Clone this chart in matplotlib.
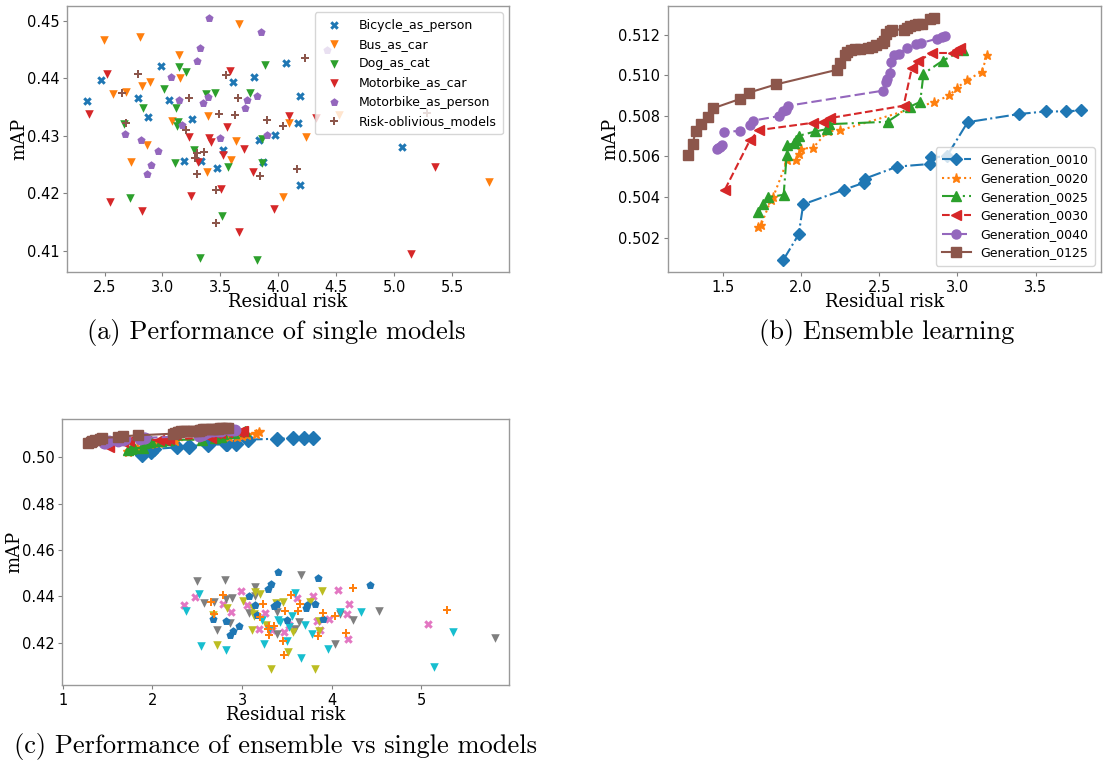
import matplotlib
matplotlib.use("Agg")
import matplotlib.pyplot as plt
from matplotlib.ticker import FixedLocator, ScalarFormatter

# ---------------- single models: (residual risk, mAP) ----------------
bicycle_as_person_risk = [2.349, 2.472, 2.984, 2.787, 2.878, 3.057, 3.257, 3.185, 3.333, 3.524, 3.467,
                          3.609, 3.794, 3.837, 3.871, 3.973, 4.070, 4.189, 4.169, 4.184, 5.071]
bicycle_as_person_map = [0.4361, 0.4397, 0.4421, 0.4366, 0.4333, 0.4362, 0.4329, 0.4257, 0.4256, 0.4276, 0.4244,
                         0.4393, 0.4402, 0.4293, 0.4255, 0.4301, 0.4427, 0.4369, 0.4322, 0.4215, 0.4280]

bus_as_car_risk = [2.494, 2.807, 3.660, 3.146, 3.148, 2.821, 2.890, 2.577, 2.685, 3.083, 3.393,
                   2.870, 2.725, 3.632, 3.589, 3.385, 4.096, 4.243, 4.039, 4.528, 5.819]
bus_as_car_map = [0.4466, 0.4472, 0.4494, 0.4441, 0.4401, 0.4387, 0.4394, 0.4373, 0.4376, 0.4326, 0.4334,
                  0.4284, 0.4255, 0.4291, 0.4258, 0.4237, 0.4323, 0.4298, 0.4193, 0.4337, 0.4219]

dog_as_cat_risk = [2.671, 2.719, 2.830, 3.015, 3.140, 3.205, 3.120, 3.131, 3.129, 3.106, 3.268,
                   3.376, 3.456, 3.328, 3.510, 3.567, 3.757, 3.888, 3.857, 3.857, 3.814]
dog_as_cat_map = [0.4320, 0.4191, 0.4349, 0.4382, 0.4420, 0.4412, 0.4349, 0.4324, 0.4317, 0.4253, 0.4276,
                  0.4373, 0.4375, 0.4088, 0.4160, 0.4246, 0.4375, 0.4423, 0.4294, 0.4252, 0.4084]

motorbike_as_car_risk = [2.369, 2.520, 2.546, 2.821, 3.245, 3.225, 3.305, 3.399, 3.422, 3.524, 3.555,
                         3.586, 3.504, 3.660, 3.700, 3.783, 3.965, 4.093, 4.329, 5.142, 5.350]
motorbike_as_car_map = [0.4338, 0.4408, 0.4185, 0.4169, 0.4195, 0.4298, 0.4255, 0.4297, 0.4290, 0.4266, 0.4315,
                        0.4413, 0.4208, 0.4132, 0.4277, 0.4237, 0.4173, 0.4334, 0.4331, 0.4095, 0.4245]

motorbike_as_person_risk = [3.399, 3.848, 3.328, 3.294, 3.077, 3.140, 3.393, 3.353, 3.729, 3.814,
                            3.709, 3.171, 3.501, 3.905, 2.679, 2.816, 2.964, 2.901, 2.867, 4.425]
motorbike_as_person_map = [0.4505, 0.4481, 0.4453, 0.4431, 0.4403, 0.4363, 0.4367, 0.4357, 0.4362, 0.4369,
                           0.4349, 0.4319, 0.4297, 0.4302, 0.4303, 0.4293, 0.4274, 0.4249, 0.4233, 0.4449]

risk_oblivious_risk = [2.648, 2.688, 2.787, 3.231, 3.200, 3.484, 3.547, 3.652, 3.626, 3.905, 4.042,
                       4.235, 3.302, 3.359, 3.285, 3.296, 3.461, 3.464, 3.845, 4.164, 5.287]
risk_oblivious_map = [0.4374, 0.4322, 0.4407, 0.4366, 0.4310, 0.4338, 0.4406, 0.4366, 0.4336, 0.4328, 0.4317,
                      0.4435, 0.4270, 0.4272, 0.4261, 0.4233, 0.4206, 0.4148, 0.4230, 0.4242, 0.4340]

single_names = ["Bicycle_as_person", "Bus_as_car", "Dog_as_cat",
                "Motorbike_as_car", "Motorbike_as_person", "Risk-oblivious_models"]
single_risk = [bicycle_as_person_risk, bus_as_car_risk, dog_as_cat_risk,
               motorbike_as_car_risk, motorbike_as_person_risk, risk_oblivious_risk]
single_map = [bicycle_as_person_map, bus_as_car_map, dog_as_cat_map,
              motorbike_as_car_map, motorbike_as_person_map, risk_oblivious_map]
single_markers = ["X", "v", "v", "v", "p", "P"]

# ---------------- ensemble fronts per generation ----------------
gen0010_risk = [1.888, 1.986, 2.015, 2.278, 2.406, 2.410, 2.616, 2.826, 2.832, 2.932, 3.065, 3.392, 3.564, 3.693, 3.791]
gen0010_map = [0.5009, 0.50216, 0.50364, 0.50437, 0.50471, 0.50491, 0.5055, 0.50563, 0.50595, 0.50601,
               0.50769, 0.50809, 0.50822, 0.50822, 0.50827]

gen0020_risk = [1.729, 1.746, 1.808, 1.824, 1.914, 1.967, 1.988, 1.998, 2.077, 2.172, 2.249,
                2.853, 2.949, 2.995, 3.059, 3.154, 3.190]
gen0020_map = [0.50253, 0.50263, 0.50384, 0.50402, 0.50582, 0.50583, 0.50611, 0.50639, 0.50642, 0.50725,
               0.50728, 0.50868, 0.50901, 0.50937, 0.50975, 0.51017, 0.51098]

gen0025_risk = [1.729, 1.761, 1.791, 1.890, 1.909, 1.914, 1.956, 1.967, 1.988, 2.090, 2.168, 2.179,
                2.554, 2.698, 2.762, 2.783, 2.906, 3.038]
gen0025_map = [0.50325, 0.50366, 0.50399, 0.50411, 0.50606, 0.50656, 0.50665, 0.50680, 0.50702, 0.50723,
               0.50735, 0.50759, 0.50771, 0.50846, 0.50869, 0.51008, 0.51072, 0.51126]

gen0030_risk = [1.515, 1.674, 1.733, 2.077, 2.143, 2.185, 2.656, 2.709, 2.751, 2.836, 2.970, 2.999, 3.016]
gen0030_map = [0.50437, 0.50679, 0.50730, 0.50766, 0.50772, 0.50789, 0.50850, 0.51037, 0.51070, 0.51110,
               0.51110, 0.51123, 0.51134]

gen0040_risk = [1.462, 1.473, 1.485, 1.494, 1.511, 1.612, 1.676, 1.697, 1.861, 1.888, 1.903, 1.920,
                2.522, 2.546, 2.552, 2.571, 2.577, 2.592, 2.624, 2.677, 2.736, 2.766, 2.868, 2.900, 2.921]
gen0040_map = [0.50636, 0.50641, 0.50649, 0.50654, 0.50721, 0.50726, 0.50754, 0.50777, 0.50799, 0.50822,
               0.50828, 0.50850, 0.50924, 0.50966, 0.50983, 0.51011, 0.51067, 0.51100, 0.51106, 0.51134,
               0.51154, 0.51159, 0.51180, 0.51188, 0.51193]

gen0125_risk = [1.277, 1.309, 1.328, 1.362, 1.409, 1.438, 1.610, 1.670, 1.841, 2.230, 2.247, 2.280,
                2.295, 2.321, 2.348, 2.376, 2.427, 2.454, 2.482, 2.518, 2.529, 2.546, 2.567, 2.582,
                2.656, 2.677, 2.698, 2.730, 2.751, 2.773, 2.826, 2.847]
gen0125_map = [0.50605, 0.50662, 0.50726, 0.50759, 0.50792, 0.50837, 0.50883, 0.50915, 0.50955, 0.51027,
               0.51060, 0.51098, 0.51113, 0.51123, 0.51129, 0.51131, 0.51134, 0.51141, 0.51147, 0.51159,
               0.51167, 0.51203, 0.51220, 0.51225, 0.51225, 0.51235, 0.51243, 0.51248, 0.51251, 0.51254,
               0.51277, 0.51282]

gen_names = ["Generation_0010", "Generation_0020", "Generation_0025",
             "Generation_0030", "Generation_0040", "Generation_0125"]
gen_risk = [gen0010_risk, gen0020_risk, gen0025_risk, gen0030_risk, gen0040_risk, gen0125_risk]
gen_map = [gen0010_map, gen0020_map, gen0025_map, gen0030_map, gen0040_map, gen0125_map]
gen_markers = ["D", "*", "^", "<", "o", "s"]
gen_styles = ["-.", ":", (0, (8, 2, 1, 2)), "--", (0, (5, 2)), "-"]

captions = ["(a) Performance of single models", "(b) Ensemble learning",
            "(c) Performance of ensemble vs single models"]

tab = plt.rcParams["axes.prop_cycle"].by_key()["color"]

W, H = 1119, 765
fig = plt.figure(figsize=(W / 100, H / 100), dpi=100)


def px_axes(x0, y0, x1, y1):
    return fig.add_axes([x0 / W, 1 - y1 / H, (x1 - x0) / W, (y1 - y0) / H])


def style(ax):
    for s in ax.spines.values():
        s.set_color("0.6")
        s.set_linewidth(1.0)
    ax.tick_params(labelsize=10.5, color="0.5", length=3, pad=2.5)
    ax.set_xlabel("Residual risk", family="DejaVu Serif", fontsize=13, labelpad=-1)
    ax.set_ylabel("mAP", family="DejaVu Serif", fontsize=13, labelpad=-1)
    ax.yaxis.set_major_formatter(ScalarFormatter(useOffset=False))


scatter_size = 38

# (a) single models
ax_a = px_axes(67, 6, 509, 272)
for i, (name, xs, ys, m) in enumerate(zip(single_names, single_risk, single_map, single_markers)):
    ax_a.scatter(xs, ys, marker=m, s=scatter_size, color=tab[i], label=name, linewidths=0)
ax_a.xaxis.set_major_locator(FixedLocator([2.5, 3.0, 3.5, 4.0, 4.5, 5.0, 5.5]))
ax_a.yaxis.set_major_locator(FixedLocator([0.41, 0.42, 0.43, 0.44, 0.45]))
style(ax_a)
ax_a.legend(loc="upper right", fontsize=9, handletextpad=1.0, borderpad=0.5, labelspacing=0.5)

# (b) ensemble fronts
ax_b = px_axes(668, 6, 1101, 272)
for i, (name, xs, ys, m, ls) in enumerate(zip(gen_names, gen_risk, gen_map, gen_markers, gen_styles)):
    ax_b.plot(xs, ys, marker=m, linestyle=ls, color=tab[i], markersize=6.5, linewidth=1.5, label=name)
ax_b.xaxis.set_major_locator(FixedLocator([1.5, 2.0, 2.5, 3.0, 3.5]))
ax_b.yaxis.set_major_locator(FixedLocator([0.502, 0.504, 0.506, 0.508, 0.510, 0.512]))
style(ax_b)
ax_b.legend(loc="lower right", fontsize=9, handlelength=2.3, borderpad=0.5, labelspacing=0.45)

# (c) ensemble fronts together with the single models
ax_c = px_axes(62, 419, 509, 685)
for i, (xs, ys, m, ls) in enumerate(zip(gen_risk, gen_map, gen_markers, gen_styles)):
    ax_c.plot(xs, ys, marker=m, linestyle=ls, color=tab[i], markersize=7.5, linewidth=1.5)
for i, (xs, ys, m) in enumerate(zip(single_risk, single_map, single_markers)):
    ax_c.scatter(xs, ys, marker=m, s=scatter_size, color=tab[(i + 6) % 10], linewidths=0)
ax_c.set_xlim(0.99, 5.98)
ax_c.set_ylim(0.4017, 0.5166)
ax_c.xaxis.set_major_locator(FixedLocator([1, 2, 3, 4, 5]))
ax_c.yaxis.set_major_locator(FixedLocator([0.42, 0.44, 0.46, 0.48, 0.50]))
style(ax_c)

# sub-figure captions
cap_kw = dict(family="cmr10", fontsize=19, ha="center", va="center")
fig.text(276 / W, 1 - 333 / H, captions[0], **cap_kw)
fig.text(887 / W, 1 - 333 / H, captions[1], **cap_kw)
fig.text(276 / W, 1 - 747 / H, captions[2], **cap_kw)

fig.savefig("out.png", dpi=100)
